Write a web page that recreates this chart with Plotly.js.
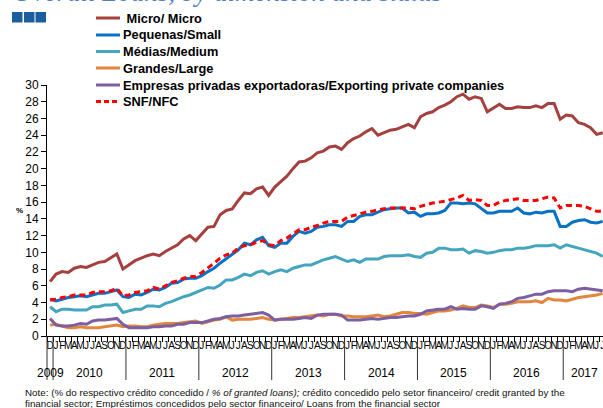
<!DOCTYPE html>
<html>
<head>
<meta charset="utf-8">
<script src="https://cdn.plot.ly/plotly-3.0.1.min.js"></script>
<style>html,body{margin:0;padding:0;background:#fff;}#chart{width:603px;height:408px;}</style>
</head>
<body>
<div id="chart"></div>
<script>
// Months: Dec 2009 .. Jul 2017
const months = ["2009-12",
"2010-01","2010-02","2010-03","2010-04","2010-05","2010-06","2010-07","2010-08","2010-09","2010-10","2010-11","2010-12",
"2011-01","2011-02","2011-03","2011-04","2011-05","2011-06","2011-07","2011-08","2011-09","2011-10","2011-11","2011-12",
"2012-01","2012-02","2012-03","2012-04","2012-05","2012-06","2012-07","2012-08","2012-09","2012-10","2012-11","2012-12",
"2013-01","2013-02","2013-03","2013-04","2013-05","2013-06","2013-07","2013-08","2013-09","2013-10","2013-11","2013-12",
"2014-01","2014-02","2014-03","2014-04","2014-05","2014-06","2014-07","2014-08","2014-09","2014-10","2014-11","2014-12",
"2015-01","2015-02","2015-03","2015-04","2015-05","2015-06","2015-07","2015-08","2015-09","2015-10","2015-11","2015-12",
"2016-01","2016-02","2016-03","2016-04","2016-05","2016-06","2016-07","2016-08","2016-09","2016-10","2016-11","2016-12",
"2017-01","2017-02","2017-03","2017-04","2017-05","2017-06","2017-07"];
const monthInitials = ["J","F","M","A","M","J","J","A","S","O","N","D"];
const yearLabels = ["2009","2010","2011","2012","2013","2014","2015","2016","2017"];

const micro = [6.5,7.4,7.7,7.6,8.1,8.3,8.2,8.5,8.8,8.9,9.4,9.8,8.0,8.5,9.0,9.3,9.6,9.8,9.6,10.1,10.5,10.9,11.6,12.0,11.4,12.2,13.0,13.1,14.5,15.0,15.2,16.2,17.1,17.0,17.6,17.8,16.8,17.8,18.5,19.1,20.0,20.8,20.9,21.3,21.9,22.1,22.6,22.7,22.3,23.1,23.6,23.9,24.4,24.8,24.0,24.3,24.6,24.7,25.0,25.3,24.9,26.2,26.6,26.8,27.3,27.6,28.0,28.6,28.9,28.3,28.6,28.4,26.8,27.2,27.7,27.2,27.2,27.4,27.3,27.3,27.5,27.3,27.8,27.8,25.9,26.4,26.3,25.5,25.3,24.9,24.1,24.3];
const pequenas = [4.4,4.2,4.4,4.6,4.7,4.8,4.7,4.9,5.1,5.1,5.3,5.5,4.7,4.6,5.0,4.9,5.2,5.6,5.5,5.8,6.3,6.4,6.8,6.9,6.9,7.2,7.7,8.1,8.7,9.2,9.7,10.3,11.1,10.9,11.5,11.8,10.8,10.6,11.1,11.1,11.9,12.5,12.3,12.5,13.0,13.1,13.3,13.3,13.1,13.7,13.7,14.3,14.5,14.5,14.8,15.1,15.2,15.3,15.3,14.7,14.8,14.3,14.6,14.6,14.7,15.0,15.9,15.9,15.8,15.9,15.8,15.3,14.7,14.7,14.9,14.9,14.9,15.3,14.7,14.6,14.8,14.7,14.9,14.9,13.1,13.1,13.6,13.8,13.9,13.6,13.5,13.7];
const medias = [3.5,2.9,3.2,3.2,3.1,3.1,3.1,3.5,3.5,3.7,3.7,3.8,2.8,3.0,3.2,3.2,3.6,3.6,3.5,3.9,4.1,4.4,4.7,4.9,5.2,5.5,5.8,5.7,6.1,6.7,6.7,7.0,7.4,7.2,7.6,7.8,7.4,7.7,7.9,7.7,8.1,8.3,8.5,8.5,8.8,9.1,9.3,9.5,9.2,8.9,9.1,8.8,9.2,9.2,9.2,9.5,9.6,9.6,9.6,9.7,9.5,9.4,9.9,10.0,10.5,10.5,10.3,10.3,10.4,9.9,10.2,10.1,9.9,10.0,10.2,10.3,10.3,10.5,10.5,10.6,10.8,10.8,10.8,10.9,10.5,10.9,10.7,10.5,10.3,10.1,9.9,9.5];
const grandes = [1.3,1.4,1.2,1.0,1.0,1.1,1.0,1.0,1.0,1.1,1.2,1.3,1.1,1.2,1.2,1.1,1.1,1.3,1.4,1.5,1.5,1.5,1.6,1.7,1.8,1.5,1.7,1.9,2.0,2.3,1.9,2.0,2.0,2.0,2.1,2.2,2.0,1.9,2.0,2.1,2.2,2.2,2.3,2.4,2.5,2.4,2.6,2.6,2.4,2.4,2.3,2.3,2.3,2.4,2.5,2.3,2.4,2.6,2.8,2.8,2.7,2.7,2.6,2.8,3.0,3.0,3.1,3.3,3.6,3.4,3.4,3.7,3.6,3.4,3.8,3.8,3.9,4.1,4.1,4.1,4.2,4.0,4.5,4.3,4.3,4.2,4.4,4.6,4.7,4.8,4.9,5.1];
const exportadoras = [2.1,1.3,1.2,1.2,1.3,1.5,1.4,1.8,1.9,1.9,2.0,2.1,1.4,1.0,1.0,1.0,1.0,1.1,1.1,1.2,1.2,1.4,1.4,1.6,1.6,1.6,1.8,2.0,2.1,2.3,2.4,2.4,2.5,2.6,2.7,2.8,2.5,1.9,2.0,2.0,2.0,2.1,2.2,2.1,2.5,2.6,2.6,2.6,2.5,1.9,1.9,1.9,2.0,2.1,2.0,2.1,2.2,2.2,2.3,2.4,2.4,2.6,3.0,3.1,3.2,3.2,3.5,3.2,3.3,3.2,3.2,3.6,3.5,3.3,3.8,3.9,4.1,4.5,4.6,4.8,5.0,5.0,5.3,5.4,5.4,5.4,5.3,5.6,5.7,5.6,5.5,5.4];
const snf = [4.3,4.4,4.6,4.7,4.9,4.9,4.9,5.2,5.3,5.3,5.4,5.7,4.8,4.9,5.2,5.3,5.4,5.8,5.6,6.0,6.4,6.6,6.9,7.1,7.1,7.6,8.1,8.7,9.3,9.7,9.9,10.5,10.8,10.9,11.2,11.4,10.9,10.8,11.4,11.7,12.2,12.7,12.7,13.0,13.2,13.5,13.7,13.7,13.7,14.2,14.4,14.6,14.8,14.9,15.1,15.2,15.3,15.3,15.3,15.3,15.2,15.5,15.7,15.9,16.0,16.1,16.3,16.5,16.8,16.2,16.3,16.2,15.6,15.6,16.0,16.2,16.3,16.4,16.2,16.2,16.2,16.4,16.6,16.5,15.3,15.6,15.6,15.6,15.5,15.2,14.9,14.9];

const seriesNames = ["\u00a0Micro/ Micro","Pequenas/Small","Médias/Medium","Grandes/Large","Empresas privadas exportadoras/Exporting private companies","SNF/NFC"];
const seriesData = [micro, pequenas, medias, grandes, exportadoras, snf];
const seriesColors = ["#A5403E","#0A72C4","#45A5BE","#E3853D","#7D5FA0","#FF0000"];
const seriesDash = ["solid","solid","solid","solid","solid","6px,4px"];

const FONT = "Liberation Sans, Arial, sans-serif";
const W = 603, H = 408, ML = 47, MR = 0, MT = 85, MB = 72;
const PW = W - ML - MR, PH = H - MT - MB;
const XR = [-0.5, 91.05];
const px2p = px => (px - ML) / PW;
const py2p = py => (MT + PH - py) / PH;
const i2p = i => (i - XR[0]) / (XR[1] - XR[0]);

const traces = seriesData.map((d, k) => ({
  type: "scatter", mode: "lines", x: months, y: d, name: seriesNames[k],
  line: {color: seriesColors[k], width: 3, dash: seriesDash[k]},
  showlegend: false, hoverinfo: "skip"
}));

const tickText = months.map(m => monthInitials[parseInt(m.slice(5), 10) - 1]);

const shapes = [];
const annotations = [];

// title squares
[[12,22.5],[24,34.5],[35.5,46]].forEach(s => shapes.push({
  type: "rect", xref: "paper", yref: "paper",
  x0: px2p(s[0]), x1: px2p(s[1]), y0: py2p(22.5), y1: py2p(12),
  fillcolor: "#1B5E9E", line: {width: 0}
}));

// title (cut off at top, as in the reference)
annotations.push({
  xref: "paper", yref: "paper", x: px2p(11), y: py2p(-8), xanchor: "left", yanchor: "middle",
  text: "Overall Loans, by dimension and status", showarrow: false,
  font: {family: "Liberation Serif, serif", size: 27, color: "#4F81C4", style: "italic"}
});

// legend
const legY = [18, 35, 51.5, 68, 85, 101.5];
seriesNames.forEach((n, k) => {
  shapes.push({type: "line", xref: "paper", yref: "paper",
    x0: px2p(96), x1: px2p(120), y0: py2p(legY[k]), y1: py2p(legY[k]),
    line: {color: seriesColors[k], width: 3, dash: k === 5 ? "5px,3px" : "solid"}});
  annotations.push({xref: "paper", yref: "paper", x: px2p(121), y: py2p(legY[k]),
    xanchor: "left", yanchor: "middle", text: "<b>" + n + "</b>", showarrow: false,
    font: {family: FONT, size: 12.8, color: "#000"}});
});

// year separators (long ticks)
const yearStarts = [-0.5, 0.5, 12.5, 24.5, 36.5, 48.5, 60.5, 72.5, 84.5];
yearStarts.forEach(b => shapes.push({type: "line", xref: "paper", yref: "paper",
  x0: i2p(b), x1: i2p(b), y0: 0, y1: py2p(380), line: {color: "#333", width: 1}}));

// year labels
const yearCenters = [0, 6.5, 18.5, 30.5, 42.5, 54.5, 66.5, 78.5, 88];
yearLabels.forEach((y, k) => annotations.push({xref: "x", yref: "paper", x: yearCenters[k], y: py2p(373),
  xanchor: "center", yanchor: "middle", text: y, showarrow: false, font: {family: FONT, size: 12, color: "#000"}}));

// % label
annotations.push({xref: "paper", yref: "paper", x: px2p(19), y: py2p(210), xanchor: "center", yanchor: "middle",
  text: "<b>%</b>", showarrow: false, font: {family: FONT, size: 8, color: "#000"}});

// notes
annotations.push({xref: "paper", yref: "paper", x: px2p(23), y: py2p(392.5), xanchor: "left", yanchor: "middle",
  text: "Note: (% do respectivo crédito concedido / <i>% of granted loans);</i> crédito concedido pelo setor financeiro/ credit granted by the",
  showarrow: false, font: {family: FONT, size: 9.8, color: "#111"}});
annotations.push({xref: "paper", yref: "paper", x: px2p(23), y: py2p(403), xanchor: "left", yanchor: "middle",
  text: "financial sector; Empréstimos concedidos pelo sector financeiro/ Loans from the financial sector",
  showarrow: false, font: {family: FONT, size: 9.8, color: "#111"}});

const layout = {
  width: W, height: H,
  margin: {l: ML, r: MR, t: MT, b: MB, pad: 0},
  paper_bgcolor: "#fff", plot_bgcolor: "#fff",
  showlegend: false,
  xaxis: {
    type: "category", range: XR, tickmode: "array", tickvals: months, ticktext: tickText,
    tickson: "boundaries", ticks: "outside", ticklen: 5, tickwidth: 1, tickcolor: "#000",
    showline: true, linecolor: "#000", linewidth: 1, showgrid: false, zeroline: false,
    tickangle: 0, tickfont: {family: FONT, size: 10, color: "#000"}, automargin: false
  },
  yaxis: {
    range: [0, 30], tickmode: "linear", tick0: 0, dtick: 2,
    ticks: "outside", ticklen: 5, tickwidth: 1, tickcolor: "#000",
    showline: true, linecolor: "#000", linewidth: 1, showgrid: false, zeroline: false,
    tickfont: {family: FONT, size: 12, color: "#000"}, automargin: false
  },
  shapes: shapes,
  annotations: annotations
};

Plotly.newPlot("chart", traces, layout, {displayModeBar: false, staticPlot: true});
</script>
</body>
</html>
